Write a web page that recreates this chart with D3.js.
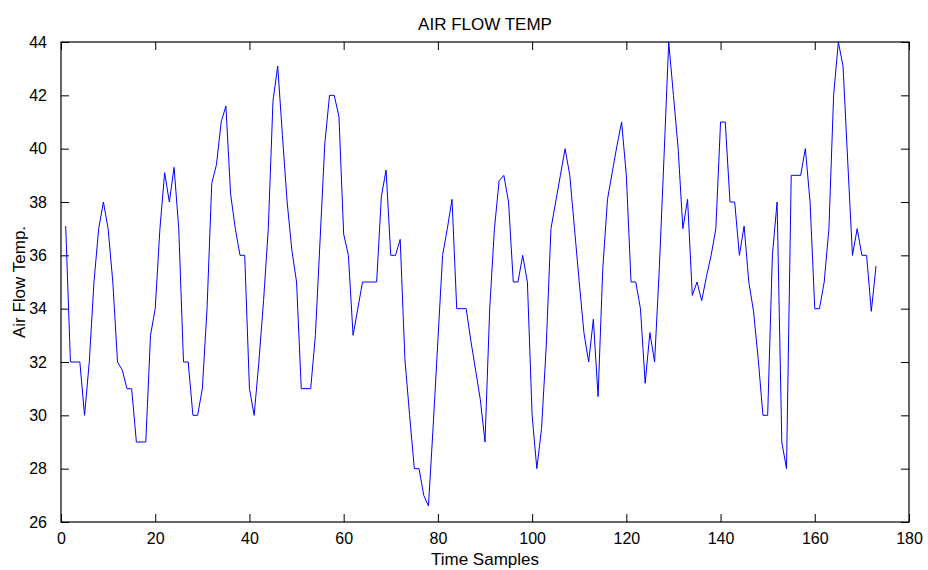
<!DOCTYPE html>
<html>
<head>
<meta charset="utf-8">
<script src="https://cdn.jsdelivr.net/npm/d3@7"></script>
<style>
  html, body { margin: 0; padding: 0; background: #fff; }
  svg { display: block; }
  text { font-family: "Liberation Sans", Arial, sans-serif; fill: #000; }
</style>
</head>
<body>
<svg id="chart" width="928" height="570"></svg>
<script>
// ---- data ----
const title = "AIR FLOW TEMP";
const xLabel = "Time Samples";
const yLabel = "Air Flow Temp.";
const xTicks = [0, 20, 40, 60, 80, 100, 120, 140, 160, 180];
const yTicks = [26, 28, 30, 32, 34, 36, 38, 40, 42, 44];
// samples 1..173
const temps = [
  37.1, 32, 32, 32, 30, 32, 35, 37, 38, 37,
  35, 32, 31.7, 31, 31, 29, 29, 29, 33, 34,
  37, 39.1, 38, 39.3, 37, 32, 32, 30, 30, 31,
  34, 38.7, 39.4, 41, 41.6, 38.3, 37, 36, 36, 31,
  30, 32, 34.3, 37, 41.8, 43.1, 40.5, 38, 36.2, 35,
  31, 31, 31, 33, 36.6, 40.2, 42, 42, 41.2, 36.8,
  36, 33, 34, 35, 35, 35, 35, 38.2, 39.2, 36,
  36, 36.6, 32.1, 30, 28, 28, 27, 26.6, 29.6, 32.8,
  36, 37, 38.1, 34, 34, 34, 32.8, 31.7, 30.6, 29,
  34, 37, 38.8, 39, 38, 35, 35, 36, 35, 30,
  28, 29.5, 32.6, 37, 38, 39, 40, 39, 37, 35,
  33.1, 32, 33.6, 30.7, 35.5, 38.1, 39.1, 40.1, 41, 39,
  35, 35, 34, 31.2, 33.1, 32, 35.5, 39.7, 44, 42,
  40, 37, 38.1, 34.5, 35, 34.3, 35.2, 36, 37, 41,
  41, 38, 38, 36, 37.1, 35, 33.9, 32.1, 30, 30,
  36, 38, 29, 28, 39, 39, 39, 40, 38, 34,
  34, 35, 37, 42, 44, 43.1, 39.5, 36, 37, 36,
  36, 33.9, 35.6
];
const samples = temps.map((v, i) => ({ x: i + 1, y: v }));

// ---- layout ----
const W = 928, H = 570;
const m = { left: 61, right: 19, top: 42, bottom: 48 };
const svg = d3.select("#chart");

const x = d3.scaleLinear().domain([0, 180]).range([m.left, W - m.right]);
const y = d3.scaleLinear().domain([26, 44]).range([H - m.bottom, m.top]);

const tickLen = 8;

// axes with inward ticks
const gx = svg.append("g").attr("transform", `translate(0,${H - m.bottom})`)
  .call(d3.axisBottom(x).tickValues(xTicks).tickSizeInner(-tickLen).tickSizeOuter(0).tickPadding(tickLen + 3).tickFormat(d3.format("d")));
const gxTop = svg.append("g").attr("transform", `translate(0,${m.top})`)
  .call(d3.axisTop(x).tickValues(xTicks).tickSizeInner(-tickLen).tickSizeOuter(0).tickFormat(""));
const gy = svg.append("g").attr("transform", `translate(${m.left},0)`)
  .call(d3.axisLeft(y).tickValues(yTicks).tickSizeInner(-tickLen).tickSizeOuter(0).tickPadding(tickLen + 6).tickFormat(d3.format("d")));
const gyRight = svg.append("g").attr("transform", `translate(${W - m.right},0)`)
  .call(d3.axisRight(y).tickValues(yTicks).tickSizeInner(-tickLen).tickSizeOuter(0).tickFormat(""));

[gx, gxTop, gy, gyRight].forEach(g => {
  g.select(".domain").remove();
  g.selectAll(".tick line").attr("stroke", "#000").attr("stroke-width", 1);
  g.selectAll(".tick text").style("font-size", "16px").attr("fill", "#000");
});

// frame
svg.append("rect")
  .attr("x", x(0)).attr("y", y(44))
  .attr("width", x(180) - x(0)).attr("height", y(26) - y(44))
  .attr("fill", "none").attr("stroke", "#000").attr("stroke-width", 1.2);

// line
const line = d3.line().x(d => x(d.x)).y(d => y(d.y));
svg.append("path")
  .datum(samples)
  .attr("d", line)
  .attr("fill", "none")
  .attr("stroke", "#0000ff")
  .attr("stroke-width", 1);

// titles
svg.append("text")
  .attr("x", (x(0) + x(180)) / 2).attr("y", 30)
  .attr("text-anchor", "middle").style("font-size", "17px")
  .text(title);
svg.append("text")
  .attr("x", (x(0) + x(180)) / 2).attr("y", 565)
  .attr("text-anchor", "middle").style("font-size", "17px")
  .text(xLabel);
svg.append("text")
  .attr("transform", `translate(25,${(y(26) + y(44)) / 2}) rotate(-90)`)
  .attr("text-anchor", "middle").style("font-size", "17px")
  .text(yLabel);
</script>
</body>
</html>
